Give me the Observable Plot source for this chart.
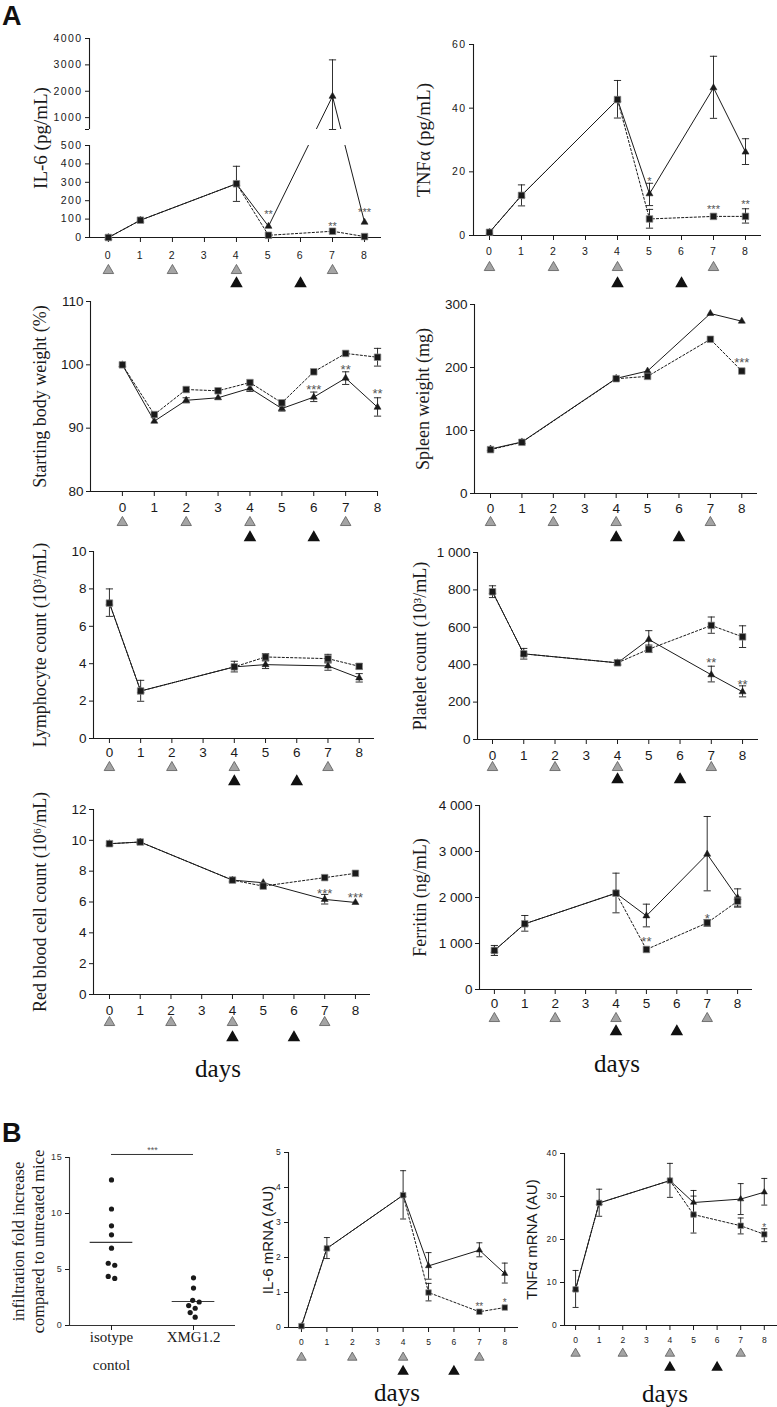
<!DOCTYPE html>
<html><head><meta charset="utf-8">
<script src="https://cdn.jsdelivr.net/npm/d3@7"></script>
<script src="https://cdn.jsdelivr.net/npm/@observablehq/plot@0.6"></script>
<style>
body{margin:0;background:#fff}
#fig{position:relative;width:777px;height:1407px;background:#fff;overflow:hidden}
.panel{position:absolute}
.panel svg{overflow:visible}
.spaced g[aria-label$="tick label"] text{letter-spacing:1.4px}
.spacedB g[aria-label="y-axis tick label"] text{letter-spacing:0.8px}
.lbl{position:absolute;font-family:"Liberation Sans",Arial,sans-serif;font-weight:bold;font-size:27px;line-height:1;color:#111}
.days{position:absolute;font-family:"Liberation Serif","Times New Roman",serif;font-size:25px;transform:translate(-50%,-50%);line-height:1;color:#111}
</style></head><body><div id="fig"></div>
<script>
// ---------------- DATA ----------------
const dayTicks = [0,1,2,3,4,5,6,7,8];
const grayInjectionDays = [0,2,4,7];
const blackInjectionDays = [4,6];

// IL-6 (pg/mL)
const il6Days  = [0,1,4,5,7,8];
const il6Tri   = [0, 94, 292, 61, 1809, 83];
const il6TriLo = [null,null,196,null,550,null];
const il6TriHi = [null,null,387,null,3190,null];
const il6Sq    = [0, 94, 292, 12, 34, 5];
const il6Ticks = [0,100,200,300,400,500,1000,2000,3000,4000];
const il6Stars = [{day:5,y:141,t:"**"},{day:7,y:76,t:"**"},{day:8,y:152,t:"***"}];

// TNFa (pg/mL)
const tnfDays  = [0,1,4,5,7,8];
const tnfTri   = [1, 12.6, 42.7, 13.1, 46.4, 26.2];
const tnfTriLo = [null, 9.3, 36.9, 9.4, 36.8, 22.3];
const tnfTriHi = [null, 15.9, 48.7, 16.4, 56.3, 30.4];
const tnfSq    = [1, 12.6, 42.7, 5.2, 6.0, 6.0];
const tnfSqLo  = [null,null,null,2.3,null,3.9];
const tnfSqHi  = [null,null,null,8.2,null,8.4];
const tnfTicks = [0,20,40,60];
const tnfStars = [{day:5,y:17.9,t:"*"},{day:7,y:9.1,t:"***"},{day:8,y:10.7,t:"**"}];

// Starting body weight (%)
const bwDays  = [0,1,2,3,4,5,6,7,8];
const bwTri   = [100, 91.1, 94.4, 94.8, 96.3, 93.1, 94.9, 97.9, 93.3];
const bwTriLo = [null,null,94.0,null,95.8,92.7,94.2,96.9,91.9];
const bwTriHi = [null,null,94.8,null,96.8,93.5,95.7,98.9,94.8];
const bwSq    = [100, 92.15, 96.1, 95.9, 97.2, 94.0, 98.9, 101.8, 101.2];
const bwSqLo  = [null,null,null,null,null,null,null,null,99.8];
const bwSqHi  = [null,null,null,null,null,null,null,null,102.6];
const bwTicks = [80,90,100,110];
const bwStars = [{day:6,y:96.5,t:"***"},{day:7,y:99.7,t:"**"},{day:8,y:95.9,t:"**"}];

// Spleen weight (mg)
const spDays = [0,1,4,5,7,8];
const spTri  = [70.6, 81.8, 182.7, 194.4, 285.7, 273.5];
const spSq   = [69.6, 81.3, 182.2, 185.9, 244.8, 194.4];
const spTicks = [0,100,200,300];
const spStars = [{day:8,y:212,t:"***"}];

// Lymphocyte count (10^3/mL)
const lyDays  = [0,1,4,5,7,8];
const lyTri   = [7.24, 2.54, 3.83, 3.95, 3.88, 3.24];
const lyTriLo = [6.53, 1.99, 3.56, 3.74, 3.65, 3.02];
const lyTriHi = [8.0, 3.11, 4.13, 4.15, 4.09, 3.47];
const lySq    = [7.24, 2.54, 3.83, 4.36, 4.27, 3.86];
const lySqLo  = [null,null,null,4.18,4.04,3.72];
const lySqHi  = [null,null,null,4.54,4.5,4.0];
const lyTicks = [0,2,4,6,8,10];

// Platelet count (10^3/mL)
const plDays  = [0,1,4,5,7,8];
const plTri   = [790, 458, 410, 535, 346, 255];
const plTriLo = [759, 430, 396, 490, 308, 228];
const plTriHi = [822, 487, 424, 582, 392, 287];
const plSq    = [790, 458, 410, 483, 610, 549];
const plSqLo  = [null,null,null,465,568,492];
const plSqHi  = [null,null,null,505,655,608];
const plTicks = [0,200,400,600,800,1000];
const plStars = [{day:7,y:430,t:"**"},{day:8,y:312,t:"**"}];

// Red blood cell count (10^6/mL)
const rbDays  = [0,1,4,5,7,8];
const rbTri   = [9.78, 9.89, 7.42, 7.25, 6.17, 5.97];
const rbTriLo = [null,null,null,null,5.87,null];
const rbTriHi = [null,null,null,null,6.49,null];
const rbSq    = [9.78, 9.89, 7.42, 7.03, 7.58, 7.86];
const rbTicks = [0,2,4,6,8,10,12];
const rbStars = [{day:7,y:6.77,t:"***"},{day:8,y:6.49,t:"***"}];

// Ferritin (ng/mL)
const feDays  = [0,1,4,5,7,8];
const feTri   = [848, 1428, 2094, 1601, 2942, 1993];
const feTriLo = [739, 1268, 1667, 1362, 2145, 1790];
const feTriHi = [957, 1609, 2529, 1855, 3761, 2188];
const feSq    = [848, 1428, 2094, 870, 1449, 1920];
const feSqLo  = [null,null,null,null,1377,1812];
const feSqHi  = [null,null,null,null,1522,2007];
const feTicks = [0,1000,2000,3000,4000];
const feStars = [{day:5,y:1101,t:"**"},{day:7,y:1609,t:"*"}];

// B: infiltration fold increase
const groups = ["isotype\ncontol", "XMG1.2"];
const isotypeValues = [13.0, 10.4, 8.9, 8.1, 6.9, 5.56, 5.38, 4.38, 4.2];
const xmgValues = [4.26, 3.34, 2.25, 2.1, 1.78, 1.54, 1.15, 0.74];
const infTicks = [0,5,10,15];
const sigBars = [{from:0, to:1, y:15.27, label:"***"}];

// B: IL-6 mRNA (AU)
const il6mDays  = [0,1,4,5,7,8];
const il6mTri   = [0.04, 2.26, 3.78, 1.76, 2.21, 1.54];
const il6mTriLo = [null, 1.97, 3.1, 1.38, 2.02, 1.27];
const il6mTriHi = [null, 2.57, 4.48, 2.14, 2.42, 1.84];
const il6mSq    = [0.04, 2.26, 3.78, 1.0, 0.45, 0.57];
const il6mSqLo  = [null,null,null,0.76,null,null];
const il6mSqHi  = [null,null,null,1.26,null,null];
const il6mTicks = [0,1,2,3,4,5];
const il6mStars = [{day:7,y:0.67,t:"**"},{day:8,y:0.79,t:"*"}];

// B: TNFa mRNA (AU)
const tnfmDays  = [0,1,4,5,7,8];
const tnfmTri   = [8.4, 28.5, 33.7, 28.6, 29.4, 31.0];
const tnfmTriLo = [4.2, 25.4, 29.8, 25.7, 25.8, 28.0];
const tnfmTriHi = [12.8, 31.7, 37.7, 31.4, 33.0, 34.2];
const tnfmSq    = [8.4, 28.5, 33.7, 25.8, 23.2, 21.2];
const tnfmSqLo  = [null,null,null,21.5,21.3,19.5];
const tnfmSqHi  = [null,null,null,30.1,25.0,22.5];
const tnfmTicks = [0,10,20,30,40];
const tnfmStars = [{day:8,y:23.2,t:"*"}];

// ---------------- RENDERING ----------------
const ink = "#1a1a1a";
const SANS = '"Liberation Sans", Arial, Helvetica, sans-serif';
const SERIF = '"Liberation Serif", "Times New Roman", serif';
const fig = document.getElementById("fig");
const spaceThousands = d => d >= 1000 ? d3.format(",")(d).replace(/,/g, " ") : String(d);

const capSymbol = {draw(ctx, size) { const h = Math.sqrt(size / Math.PI); ctx.moveTo(-h, 0); ctx.lineTo(h, 0); }};

const topStyle = {tick:10.5, xPad:9, grayDy:32, blackDy:46, sqR:3.7, triR:2.6, cap:3.6, doseR:3.9, star:11, cls:"spaced", labelSize:19};
const midStyle = {tick:13.5, xPad:6, grayDy:30, blackDy:44, sqR:3.7, triR:2.6, cap:3.6, doseR:3.9, star:13, cls:"", labelSize:18};
const bStyle   = {tick:8.5, xPad:6, grayDy:30, blackDy:44, sqR:3.1, triR:2.3, cap:3, doseR:3.5, star:10, cls:"spacedB", labelSize:15};

function makeSeries(days, v, lo, hi) {
  return days.map((day, i) => ({day, v: v[i], lo: lo ? lo[i] : null, hi: hi ? hi[i] : null}));
}
function dims(L) {
  return {width: L.width, height: L.height, marginLeft: L.axisX - L.left, marginRight: L.left + L.width - L.rightX,
          marginTop: L.topY - L.top, marginBottom: L.top + L.height - L.bottomY};
}
function place(L, svg, cls) {
  const div = document.createElement("div");
  div.className = "panel " + (cls || "");
  Object.assign(div.style, {left: L.left + "px", top: L.top + "px", width: L.width + "px", height: L.height + "px"});
  div.append(svg);
  fig.append(div);
}

function timePanel(p) {
  const L = p.layout, S = p.style;
  const tri = makeSeries(p.days, p.tri, p.triLo, p.triHi);
  const sq = makeSeries(p.days, p.sq, p.sqLo, p.sqHi);
  const errs = [...tri, ...sq].filter(d => d.lo != null);
  const x0 = p.xDomain[0];
  const y = p.yPiece
    ? {type: "linear", domain: p.yPiece, range: p.yPiecePx.map(v => v - L.top), label: null}
    : {domain: p.yDomain, label: null};
  const marks = [
    Plot.line(tri, {x: "day", y: "v", stroke: ink, strokeWidth: 1}),
    Plot.line(sq, {x: "day", y: "v", stroke: ink, strokeWidth: 1, strokeDasharray: "2.2,2"})
  ];
  if (p.yBreak) marks.push(Plot.rect([p.yBreak], {x1: p.xDomain[0], x2: p.xDomain[1], y1: d => d[0], y2: d => d[1], fill: "white"}));
  marks.push(
    Plot.ruleY([p.yPiece ? p.yPiece[0] : p.yDomain[0]], {stroke: ink, strokeWidth: 1.1}),
    p.yAxisSegments
      ? Plot.ruleX(p.yAxisSegments, {x: x0, y1: d => d[0], y2: d => d[1], stroke: ink, strokeWidth: 1.1})
      : Plot.ruleX([x0], {stroke: ink, strokeWidth: 1.1}),
    Plot.axisX({ticks: dayTicks, tickSize: 5, tickPadding: p.xPad ?? S.xPad, label: null, fontSize: S.tick, tickFormat: d => String(d)}),
    Plot.axisY({ticks: p.yTicks, tickSize: 4, tickPadding: 3, label: null, fontSize: S.tick, tickFormat: p.yFormat || (d => String(d))}),
    Plot.ruleX(errs, {x: "day", y1: "lo", y2: "hi", stroke: ink, strokeWidth: 0.9}),
    Plot.dot(errs, {x: "day", y: "lo", symbol: capSymbol, r: S.cap, stroke: ink, fill: "none", strokeWidth: 0.9}),
    Plot.dot(errs, {x: "day", y: "hi", symbol: capSymbol, r: S.cap, stroke: ink, fill: "none", strokeWidth: 0.9}),
    Plot.dot(tri, {x: "day", y: "v", symbol: "triangle", r: S.triR, fill: ink, stroke: ink, strokeWidth: 0.5}),
    Plot.dot(sq, {x: "day", y: "v", symbol: "square", r: S.sqR, fill: ink, stroke: "#8a8a8a", strokeWidth: 0.7}),
    Plot.text(p.stars || [], {x: "day", y: "y", text: "t", fontSize: S.star, fill: "#555", dy: S.star * 0.25, fontFamily: SANS}),
    Plot.dot(grayInjectionDays, {x: d => d, frameAnchor: "bottom", dy: p.grayDy ?? S.grayDy, symbol: "triangle", r: S.doseR, fill: "#a4a4a4", stroke: "#5a5a5a", strokeWidth: 0.8}),
    Plot.dot(blackInjectionDays, {x: d => d, frameAnchor: "bottom", dy: p.blackDy ?? S.blackDy, symbol: "triangle", r: S.doseR * 0.95, fill: "#111", stroke: "#111"}),
    Plot.text([p.ylabel], {text: d => d, frameAnchor: "left", dx: -p.labelDx, rotate: -90, textAnchor: "middle",
      fontFamily: p.labelFont || SERIF, fontSize: p.labelSize || S.labelSize, fill: ink})
  );
  if (p.yPiece) marks.push(Plot.axisY({ticks: [p.yBreak[1]], tickSize: 4, tickFormat: () => "", label: null}));
  const svg = Plot.plot({
    ...dims(L),
    x: {domain: p.xDomain, label: null},
    y,
    style: {fontFamily: SANS, fontSize: S.tick + "px", color: ink, background: "transparent", overflow: "visible"},
    marks
  });
  place(L, svg, S.cls);
}

// beeswarm-style horizontal offsets (px) so that dots do not overlap; colliding clusters are re-centred
function swarm(values, pxPerUnit, minDist) {
  const order = values.map((v, i) => i).sort((a, b) => values[b] - values[a]);
  const placed = [], off = new Array(values.length);
  for (const i of order) {
    const yy = values[i] * pxPerUnit;
    let chosen = 0;
    for (let k = 0; k < 80; k++) {
      const dx = k === 0 ? 0 : (k % 2 ? 1 : -1) * Math.ceil(k / 2) * 0.5;
      if (placed.every(p => (p.x - dx) ** 2 + (p.y - yy) ** 2 >= minDist * minDist)) { chosen = dx; break; }
    }
    placed.push({x: chosen, y: yy});
    off[i] = chosen;
  }
  // group consecutive (in value order) colliding dots and centre each group
  let cluster = [order[0]];
  const flush = () => { const m = d3.mean(cluster, j => off[j]); cluster.forEach(j => off[j] -= m); };
  for (let k = 1; k < order.length; k++) {
    const a = order[k - 1], b = order[k];
    if ((values[a] - values[b]) * pxPerUnit < minDist) cluster.push(b);
    else { flush(); cluster = [b]; }
  }
  flush();
  return off;
}

function dotPanel() {
  const L = {left:0, top:1140, width:250, height:260, axisX:69, rightX:235, topY:1157, bottomY:1325};
  const xDomain = [-0.512, 1.512], yDomain = [0, 15];
  const yPx = (L.bottomY - L.topY) / (yDomain[1] - yDomain[0]);
  const xPx = (L.rightX - L.axisX) / (xDomain[1] - xDomain[0]);
  const r = 2.6;
  const pts = [];
  const sets = [isotypeValues, xmgValues];
  sets.forEach((vals, gi) => {
    const offs = swarm(vals, yPx, 2 * r + 1.4);
    vals.forEach((v, i) => pts.push({x: gi + offs[i] / xPx, v}));
  });
  const meanHalf = 0.26;
  const means = sets.map((vals, gi) => ({g: gi, m: d3.mean(vals)}));
  const lineRows = k => groups.map((g, i) => ({i, t: g.split("\n")[k]})).filter(d => d.t);
  const catLabel = (k, baseline) => Plot.text(lineRows(k), {x: "i", text: "t", frameAnchor: "bottom", dy: baseline,
    lineAnchor: "bottom", fontFamily: SERIF, fontSize: 15, fill: ink});
  const svg = Plot.plot({
    ...dims(L),
    x: {domain: xDomain, label: null},
    y: {domain: yDomain, label: null},
    style: {fontFamily: SANS, fontSize: "9px", color: ink, background: "transparent", overflow: "visible"},
    marks: [
      Plot.ruleY([0], {stroke: "#333", strokeWidth: 1.1}),
      Plot.ruleX([xDomain[0]], {stroke: "#333", strokeWidth: 1.1}),
      Plot.axisY({ticks: infTicks, tickSize: 4, tickPadding: 3, label: null, fontSize: 9, fill: "#333", tickFormat: d => String(d)}),
      Plot.axisX({ticks: [0, 1], tickSize: 5, label: null, tickFormat: () => ""}),
      catLabel(0, 16),
      catLabel(1, 44),
      Plot.ruleY(means, {x1: d => d.g - meanHalf, x2: d => d.g + meanHalf, y: "m", stroke: "#3a3a3a", strokeWidth: 1.2}),
      Plot.dot(pts, {x: "x", y: "v", r, fill: ink}),
      Plot.ruleY(sigBars, {x1: "from", x2: "to", y: "y", stroke: "#333", strokeWidth: 1}),
      Plot.text(sigBars, {x: d => (d.from + d.to) / 2, y: "y", text: "label", dy: -4, fontSize: 9, fill: "#555"}),
      Plot.text(["infiltration fold increase\ncompared to untreated mice"], {text: d => d, frameAnchor: "left", dx: -41.5,
        rotate: -90, textAnchor: "middle", lineAnchor: "middle", lineHeight: 1.2, fontFamily: SERIF, fontSize: 16.5, fill: ink})
    ]
  });
  place(L, svg, "spacedB");
}

const panels = [
  {layout:{left:0,top:28,width:388,height:270,axisX:89,rightX:381,topY:38,bottomY:237}, xDomain:[-0.59,8.53],
   yPiece:[0,500,550,4000], yPiecePx:[237,145,129,38], yBreak:[500,550], yAxisSegments:[[0,500],[550,4000]],
   yTicks:il6Ticks, days:il6Days, tri:il6Tri, triLo:il6TriLo, triHi:il6TriHi, sq:il6Sq, stars:il6Stars,
   ylabel:"IL-6 (pg/mL)", labelDx:49, style:topStyle, xPad:9, grayDy:33, blackDy:46},
  {layout:{left:390,top:28,width:387,height:270,axisX:473,rightX:761,topY:44,bottomY:235}, xDomain:[-0.5,8.5],
   yDomain:[0,60], yTicks:tnfTicks, days:tnfDays, tri:tnfTri, triLo:tnfTriLo, triHi:tnfTriHi, sq:tnfSq, sqLo:tnfSqLo, sqHi:tnfSqHi,
   stars:tnfStars, ylabel:"TNFα (pg/mL)", labelDx:50, style:topStyle, xPad:7, grayDy:32, blackDy:48},
  {layout:{left:0,top:290,width:388,height:260,axisX:90,rightX:378,topY:301,bottomY:491}, xDomain:[-1.0,8.03],
   yDomain:[80,110], yTicks:bwTicks, days:bwDays, tri:bwTri, triLo:bwTriLo, triHi:bwTriHi, sq:bwSq, sqLo:bwSqLo, sqHi:bwSqHi,
   stars:bwStars, ylabel:"Starting body weight (%)", labelDx:50, style:midStyle, xPad:6, grayDy:31, blackDy:46},
  {layout:{left:390,top:290,width:387,height:260,axisX:474,rightX:757,topY:304,bottomY:493}, xDomain:[-0.51,8.5],
   yDomain:[0,300], yTicks:spTicks, days:spDays, tri:spTri, sq:spSq, stars:spStars,
   ylabel:"Spleen weight (mg)", labelDx:51, style:midStyle, xPad:5, grayDy:29, blackDy:44},
  {layout:{left:0,top:545,width:388,height:250,axisX:93,rightX:374,topY:551,bottomY:738}, xDomain:[-0.51,8.49],
   yDomain:[0,10], yTicks:lyTicks, days:lyDays, tri:lyTri, triLo:lyTriLo, triHi:lyTriHi, sq:lySq, sqLo:lySqLo, sqHi:lySqHi,
   ylabel:"Lymphocyte count (10³/mL)", labelDx:53, style:midStyle, xPad:4, grayDy:29, blackDy:43},
  {layout:{left:390,top:545,width:387,height:250,axisX:477,rightX:758,topY:552,bottomY:739}, xDomain:[-0.48,8.51],
   yDomain:[0,1000], yTicks:plTicks, yFormat:spaceThousands, days:plDays, tri:plTri, triLo:plTriLo, triHi:plTriHi, sq:plSq, sqLo:plSqLo, sqHi:plSqHi,
   stars:plStars, ylabel:"Platelet count (10³/mL)", labelDx:57, style:midStyle, xPad:6, grayDy:28, blackDy:40},
  {layout:{left:0,top:800,width:388,height:250,axisX:93,rightX:370,topY:809,bottomY:994}, xDomain:[-0.52,8.49],
   yDomain:[0,12], yTicks:rbTicks, days:rbDays, tri:rbTri, triLo:rbTriLo, triHi:rbTriHi, sq:rbSq, stars:rbStars,
   ylabel:"Red blood cell count (10⁶/mL)", labelDx:53, style:midStyle, xPad:6, grayDy:28, blackDy:43},
  {layout:{left:390,top:795,width:387,height:255,axisX:479,rightX:752,topY:805,bottomY:989}, xDomain:[-0.49,8.49],
   yDomain:[0,4000], yTicks:feTicks, yFormat:spaceThousands, days:feDays, tri:feTri, triLo:feTriLo, triHi:feTriHi, sq:feSq, sqLo:feSqLo, sqHi:feSqHi,
   stars:feStars, ylabel:"Ferritin (ng/mL)", labelDx:59, style:midStyle, xPad:4, grayDy:29, blackDy:42},
  {layout:{left:255,top:1140,width:265,height:245,axisX:288,rightX:518,topY:1152,bottomY:1327}, xDomain:[-0.51,8.54],
   yDomain:[0,5], yTicks:il6mTicks, days:il6mDays, tri:il6mTri, triLo:il6mTriLo, triHi:il6mTriHi, sq:il6mSq, sqLo:il6mSqLo, sqHi:il6mSqHi,
   stars:il6mStars, ylabel:"IL-6 mRNA (AU)", labelDx:20, labelFont:SANS, labelSize:15, style:bStyle, xPad:6, grayDy:30, blackDy:44},
  {layout:{left:517,top:1140,width:260,height:245,axisX:564,rightX:777,topY:1153,bottomY:1325}, xDomain:[-0.47,8.56],
   yDomain:[0,40], yTicks:tnfmTicks, days:tnfmDays, tri:tnfmTri, triLo:tnfmTriLo, triHi:tnfmTriHi, sq:tnfmSq, sqLo:tnfmSqLo, sqHi:tnfmSqHi,
   stars:tnfmStars, ylabel:"TNFα mRNA (AU)", labelDx:32, labelFont:SANS, labelSize:15, style:bStyle, xPad:6, grayDy:28, blackDy:42}
];

panels.forEach(timePanel);
dotPanel();

function addText(cls, text, left, top) {
  const d = document.createElement("div");
  d.className = cls; d.textContent = text;
  d.style.left = left + "px"; d.style.top = top + "px";
  fig.append(d);
}
addText("lbl", "A", 2, 3);
addText("lbl", "B", 2, 1120);
addText("days", "days", 218, 1068);
addText("days", "days", 617, 1063);
addText("days", "days", 397, 1392);
addText("days", "days", 665, 1393);
</script></body></html>
